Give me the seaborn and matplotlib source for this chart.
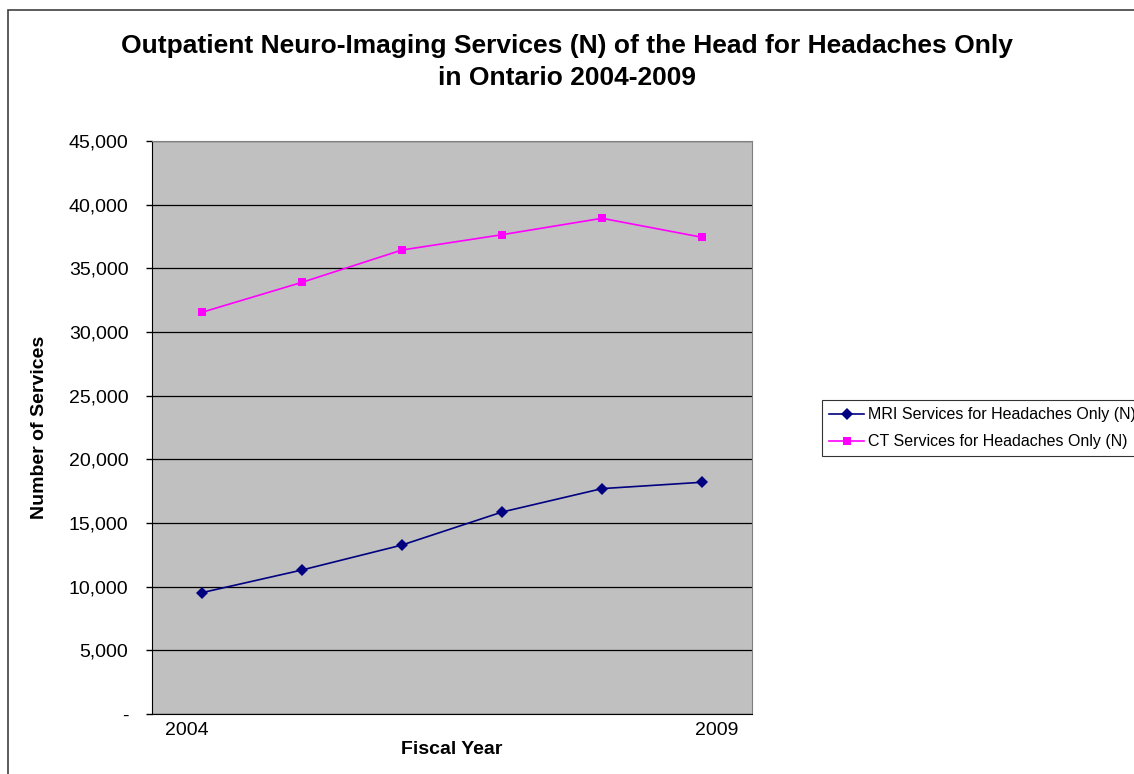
"""Outpatient neuro-imaging services chart."""
import pandas as pd
import matplotlib
matplotlib.use('Agg')
import matplotlib.pyplot as plt
import matplotlib.transforms as mtransforms
import seaborn as sns
from matplotlib.ticker import FuncFormatter
from matplotlib.patches import Rectangle

years = [2004, 2005, 2006, 2007, 2008, 2009]
year_labels = ['2004', '', '', '', '', '2009']
mri_services = [9530, 11310, 13270, 15860, 17700, 18200]
ct_services = [31550, 33900, 36440, 37640, 38930, 37440]
series_names = ['MRI Services for Headaches Only (N)', 'CT Services for Headaches Only (N)']

df = pd.DataFrame({
    'pos': list(range(len(years))) * 2,
    'services': mri_services + ct_services,
    'series': [series_names[0]] * len(years) + [series_names[1]] * len(years),
})

plt.rcParams['font.family'] = ['Liberation Sans', 'DejaVu Sans']

fig = plt.figure(figsize=(11.34, 7.74), dpi=100)
ax = fig.add_axes([152 / 1134, 60 / 774, 600 / 1134, 573 / 774])
ax.set_facecolor('#C0C0C0')

sns.lineplot(data=df, x='pos', y='services', hue='series', style='series',
             palette={series_names[0]: '#000080', series_names[1]: '#FF00FF'},
             markers={series_names[0]: 'D', series_names[1]: 's'},
             dashes=False, markersize=6, markeredgewidth=0, linewidth=1.2,
             ax=ax, zorder=3)

ax.set_xlim(-0.5, len(years) - 0.5)
ax.set_ylim(0, 45000)
ax.set_yticks(range(0, 45001, 5000))
ax.yaxis.set_major_formatter(FuncFormatter(lambda v, p: '-' if v == 0 else f'{int(v):,}'))
ax.set_xticks(range(len(years)))
ax.set_xticklabels(year_labels)
ax.tick_params(axis='x', length=0, labelsize=14, pad=6)
ax.tick_params(axis='y', direction='out', length=4, width=1, labelsize=14, pad=13)
# Excel pushes the end labels slightly outward
for lbl, dx in zip(ax.get_xticklabels(), [-15, 0, 0, 0, 0, 15]):
    lbl.set_transform(lbl.get_transform() + mtransforms.ScaledTranslation(dx / 100, 0, fig.dpi_scale_trans))
ax.yaxis.grid(True, color='black', linewidth=0.9)
ax.set_axisbelow(True)
for side in ['top', 'right']:
    ax.spines[side].set_color('#808080')
for side in ['left', 'bottom']:
    ax.spines[side].set_color('black')

ax.set_xlabel('Fiscal Year', fontsize=14, fontweight='bold', labelpad=1)
ax.set_ylabel('Number of Services', fontsize=14, fontweight='bold', labelpad=15)

fig.text(0.5, 1 - 62 / 774, 'Outpatient Neuro-Imaging Services (N) of the Head for Headaches Only\nin Ontario 2004-2009',
         ha='center', va='center', fontsize=19, fontweight='bold', linespacing=1.45)

leg = ax.legend(loc='upper left', bbox_to_anchor=(822 / 1134, 1 - 400 / 774),
                bbox_transform=fig.transFigure, fontsize=11.5, frameon=True,
                fancybox=False, edgecolor='black', borderpad=0.45, borderaxespad=0,
                handlelength=2.2, handletextpad=0.2, labelspacing=0.75)
leg.get_frame().set_linewidth(0.8)

fig.patches.append(Rectangle((8 / 1134, -0.1), 1.2, 1 - 10 / 774 + 0.1,
                             transform=fig.transFigure, fill=False,
                             edgecolor='#404040', linewidth=1.2))

fig.savefig('out.png', dpi=100)
